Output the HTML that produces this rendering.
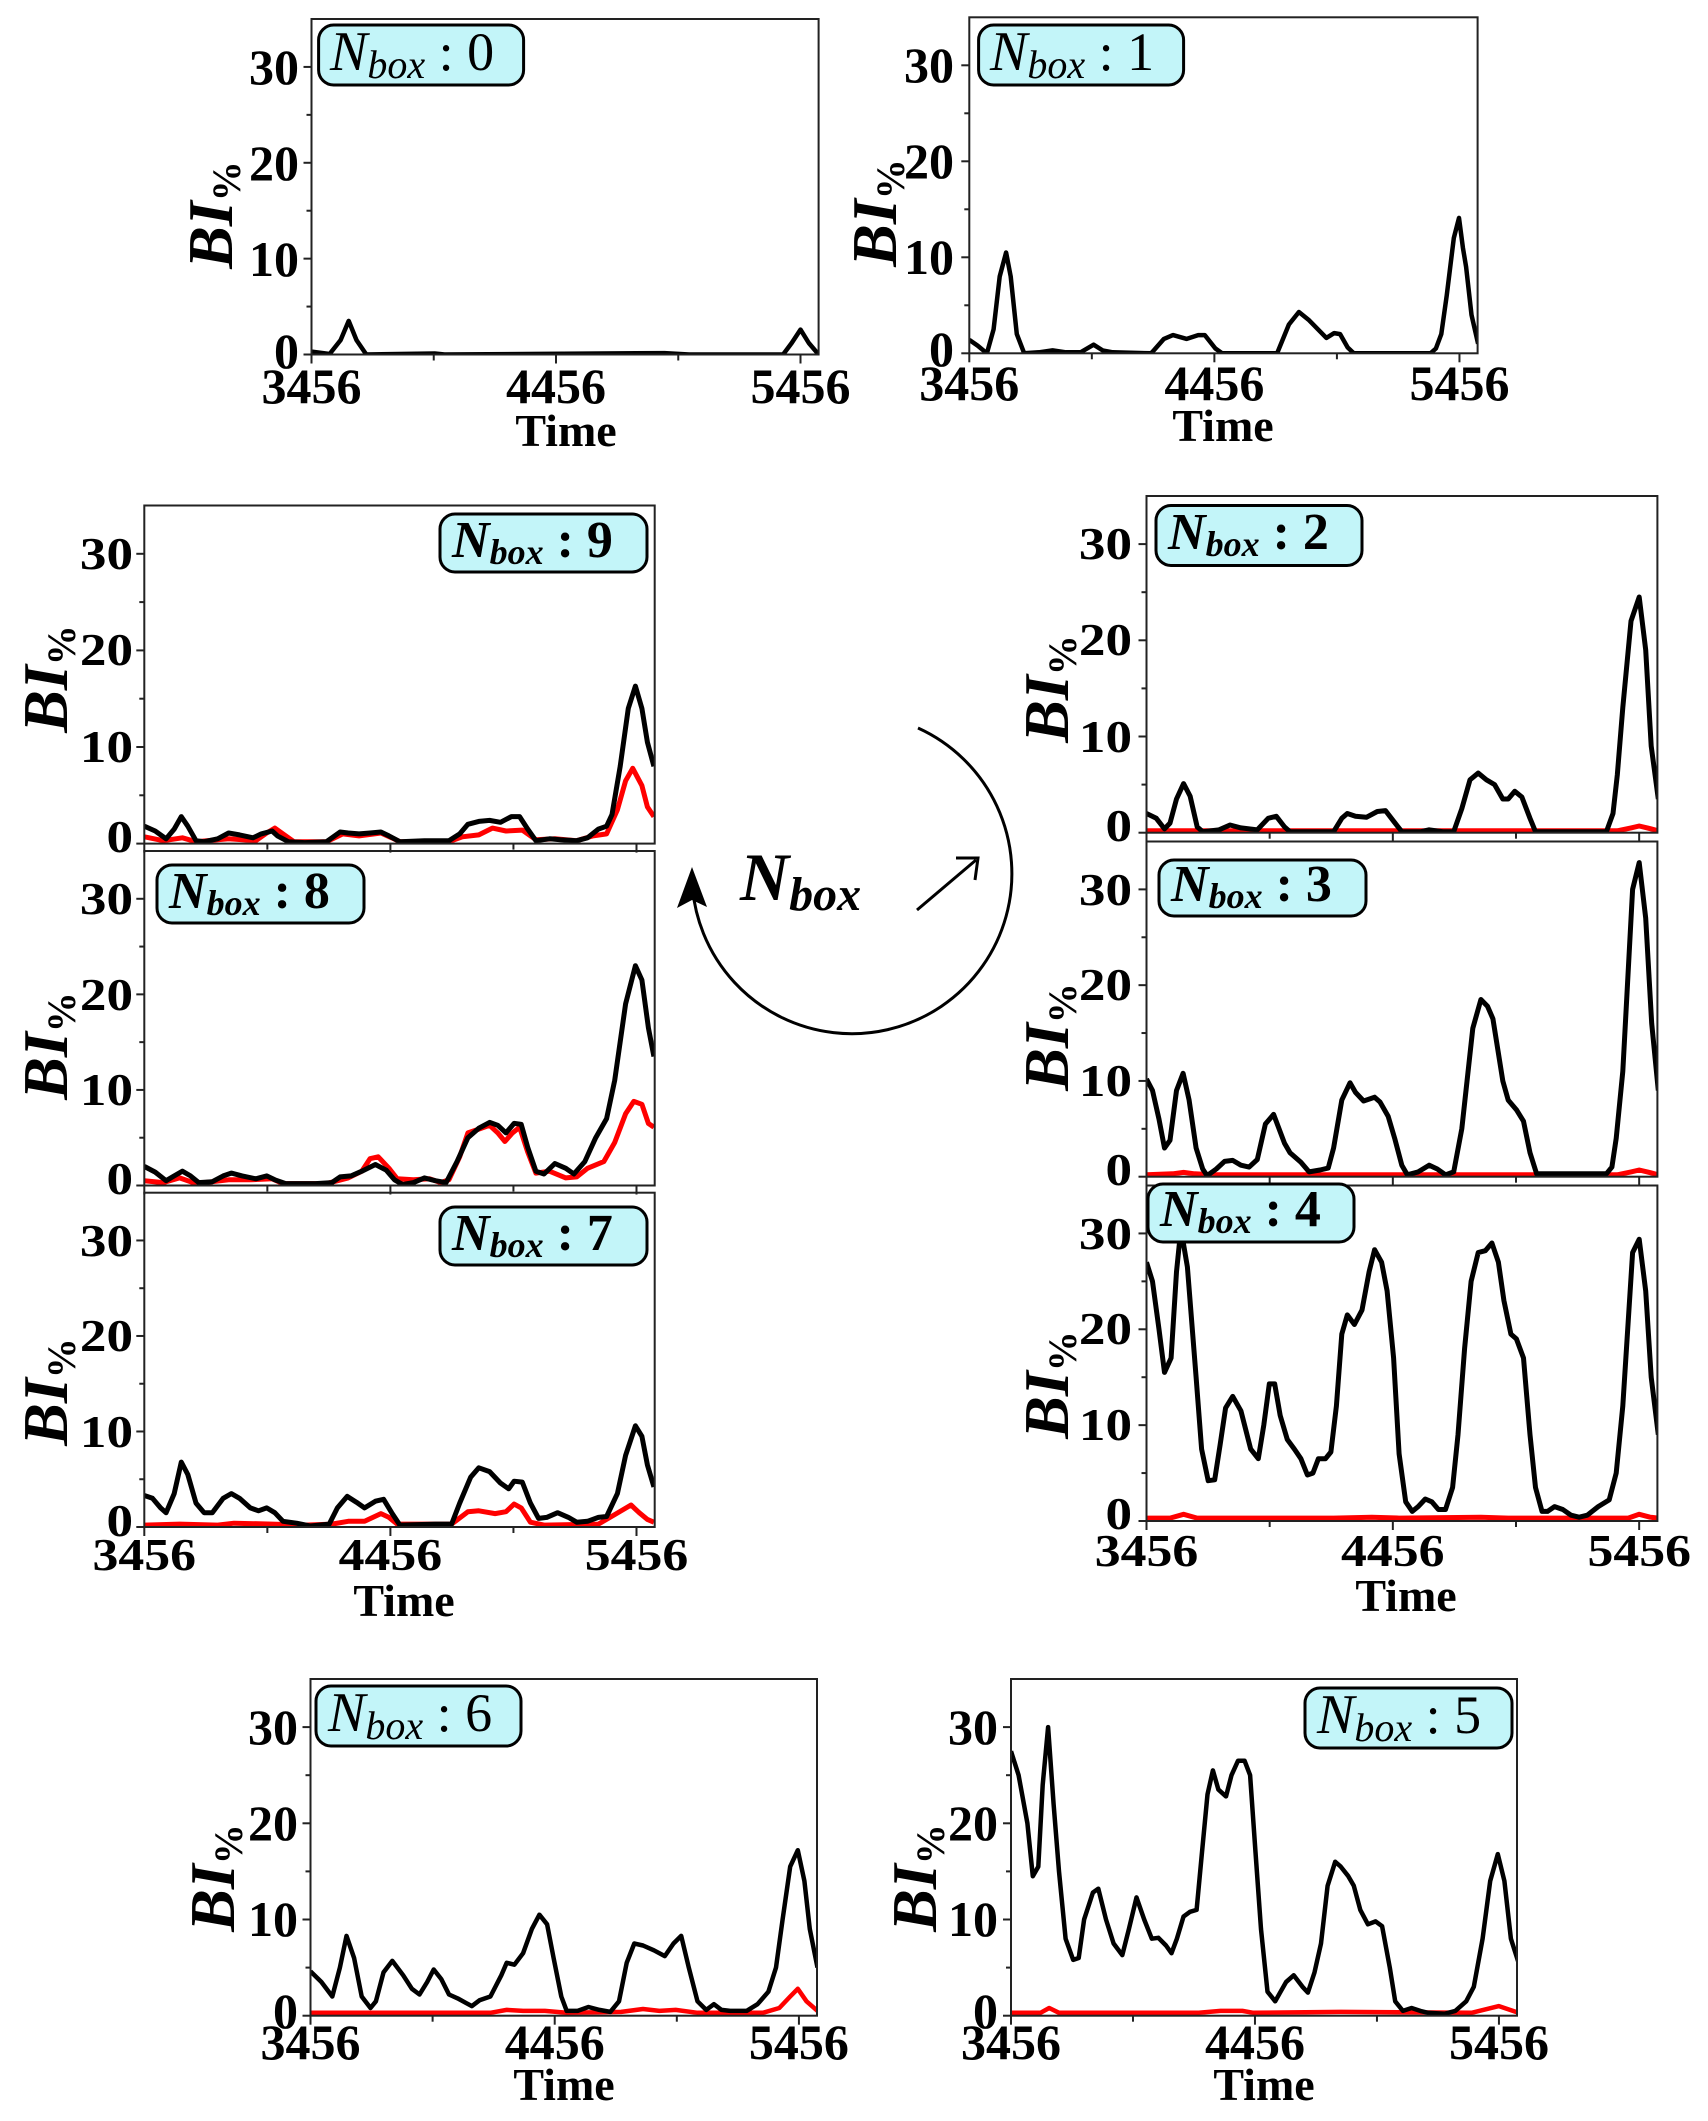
<!DOCTYPE html>
<html><head><meta charset="utf-8">
<style>
html,body{margin:0;padding:0;background:#fff;}
svg{display:block;}
.t{font-family:"Liberation Serif",serif;font-weight:bold;fill:#000;}
.lg{font-family:"Liberation Serif",serif;font-style:italic;fill:#000;}
</style></head>
<body>
<svg id="s" width="1708" height="2121" viewBox="0 0 1708 2121" xmlns="http://www.w3.org/2000/svg">
<rect width="1708" height="2121" fill="#fff"/>
<g id="plots"></g>

<!-- legends -->
<g stroke="#000" stroke-width="3" fill="#c3f5f9">
<rect x="318.6" y="25" width="205" height="60" rx="15"/>
<rect x="978.6" y="25" width="205" height="60" rx="15"/>
<rect x="440" y="514" width="207" height="58" rx="15"/>
<rect x="157" y="865" width="207" height="58" rx="15"/>
<rect x="440" y="1207" width="207" height="58" rx="15"/>
<rect x="1156" y="505.5" width="206" height="60" rx="15"/>
<rect x="1159" y="860" width="207" height="56" rx="15"/>
<rect x="1148" y="1184" width="206" height="58" rx="15"/>
<rect x="316" y="1686" width="205" height="60" rx="15"/>
<rect x="1305" y="1688" width="207" height="60" rx="15"/>
</g>
<text class="lg" x="330" y="70" font-size="56">N<tspan font-size="40" dy="8">box</tspan><tspan font-style="normal" font-size="54" dy="-8"> : 0</tspan></text>
<text class="lg" x="990" y="70" font-size="56">N<tspan font-size="40" dy="8">box</tspan><tspan font-style="normal" font-size="54" dy="-8"> : 1</tspan></text>
<text class="lg" x="452" y="557" font-size="52" font-weight="bold">N<tspan font-size="36" dy="7">box</tspan><tspan font-style="normal" dy="-7"> : 9</tspan></text>
<text class="lg" x="169" y="908" font-size="52" font-weight="bold">N<tspan font-size="36" dy="7">box</tspan><tspan font-style="normal" dy="-7"> : 8</tspan></text>
<text class="lg" x="452" y="1250" font-size="52" font-weight="bold">N<tspan font-size="36" dy="7">box</tspan><tspan font-style="normal" dy="-7"> : 7</tspan></text>
<text class="lg" x="1168" y="549" font-size="52" font-weight="bold">N<tspan font-size="36" dy="7">box</tspan><tspan font-style="normal" dy="-7"> : 2</tspan></text>
<text class="lg" x="1171" y="901" font-size="52" font-weight="bold">N<tspan font-size="36" dy="7">box</tspan><tspan font-style="normal" dy="-7"> : 3</tspan></text>
<text class="lg" x="1160" y="1226" font-size="52" font-weight="bold">N<tspan font-size="36" dy="7">box</tspan><tspan font-style="normal" dy="-7"> : 4</tspan></text>
<text class="lg" x="328" y="1731" font-size="56">N<tspan font-size="40" dy="8">box</tspan><tspan font-style="normal" font-size="54" dy="-8"> : 6</tspan></text>
<text class="lg" x="1317" y="1733" font-size="56">N<tspan font-size="40" dy="8">box</tspan><tspan font-style="normal" font-size="54" dy="-8"> : 5</tspan></text>

<!-- Y tick labels: top/bottom panels -->
<g class="t" font-size="50" text-anchor="end">
<text x="299" y="84">30</text><text x="299" y="180">20</text><text x="299" y="276">10</text><text x="299" y="368">0</text>
<text x="954" y="82">30</text><text x="954" y="178">20</text><text x="954" y="274">10</text><text x="954" y="366">0</text>
<text x="298" y="1744">30</text><text x="298" y="1840">20</text><text x="298" y="1936">10</text><text x="298" y="2028">0</text>
<text x="998" y="1744">30</text><text x="998" y="1840">20</text><text x="998" y="1936">10</text><text x="998" y="2028">0</text>
</g>
<!-- Y tick labels middle panels -->
<g class="t" font-size="45" text-anchor="end">
<text transform="translate(133,569) scale(1.18,1)">30</text><text transform="translate(133,665) scale(1.18,1)">20</text><text transform="translate(133,762) scale(1.18,1)">10</text><text transform="translate(133,852) scale(1.18,1)">0</text>
<text transform="translate(133,914) scale(1.18,1)">30</text><text transform="translate(133,1010) scale(1.18,1)">20</text><text transform="translate(133,1105) scale(1.18,1)">10</text><text transform="translate(133,1194) scale(1.18,1)">0</text>
<text transform="translate(133,1256) scale(1.18,1)">30</text><text transform="translate(133,1351) scale(1.18,1)">20</text><text transform="translate(133,1447) scale(1.18,1)">10</text><text transform="translate(133,1536) scale(1.18,1)">0</text>
<text transform="translate(1132,559) scale(1.18,1)">30</text><text transform="translate(1132,655) scale(1.18,1)">20</text><text transform="translate(1132,752) scale(1.18,1)">10</text><text transform="translate(1132,841) scale(1.18,1)">0</text>
<text transform="translate(1132,905) scale(1.18,1)">30</text><text transform="translate(1132,1000) scale(1.18,1)">20</text><text transform="translate(1132,1096) scale(1.18,1)">10</text><text transform="translate(1132,1185) scale(1.18,1)">0</text>
<text transform="translate(1132,1249) scale(1.18,1)">30</text><text transform="translate(1132,1344) scale(1.18,1)">20</text><text transform="translate(1132,1440) scale(1.18,1)">10</text><text transform="translate(1132,1529) scale(1.18,1)">0</text>
</g>
<!-- X tick labels -->
<g class="t" font-size="50" text-anchor="middle">
<text x="311.5" y="403">3456</text><text x="556" y="403">4456</text><text x="800.5" y="403">5456</text>
<text x="969.3" y="400">3456</text><text x="1214.4" y="400">4456</text><text x="1459.5" y="400">5456</text>
<text x="310.5" y="2059">3456</text><text x="554.7" y="2059">4456</text><text x="798.9" y="2059">5456</text>
<text x="1011" y="2059">3456</text><text x="1255" y="2059">4456</text><text x="1499" y="2059">5456</text>
</g>
<g class="t" font-size="45" text-anchor="middle">
<text transform="translate(144.3,1570) scale(1.15,1)">3456</text><text transform="translate(390.4,1570) scale(1.15,1)">4456</text><text transform="translate(636.5,1570) scale(1.15,1)">5456</text>
<text transform="translate(1146.5,1566) scale(1.15,1)">3456</text><text transform="translate(1392.8,1566) scale(1.15,1)">4456</text><text transform="translate(1639.2,1566) scale(1.15,1)">5456</text>
</g>
<g class="t" font-size="46" text-anchor="middle">
<text x="566" y="446">Time</text>
<text x="1223" y="441">Time</text>
<text x="404" y="1616">Time</text>
<text x="1406" y="1611">Time</text>
<text x="564" y="2100">Time</text>
<text x="1264" y="2100">Time</text>
</g>
<!-- BI% y labels -->
<g class="t" font-style="italic" font-size="64" text-anchor="middle">
<text transform="translate(232,215) rotate(-90)">BI<tspan font-size="40" font-style="normal" dy="8">%</tspan></text>
<text transform="translate(896,213) rotate(-90)">BI<tspan font-size="40" font-style="normal" dy="8">%</tspan></text>
<text transform="translate(67,679) rotate(-90)">BI<tspan font-size="40" font-style="normal" dy="8">%</tspan></text>
<text transform="translate(67,1046) rotate(-90)">BI<tspan font-size="40" font-style="normal" dy="8">%</tspan></text>
<text transform="translate(67,1392) rotate(-90)">BI<tspan font-size="40" font-style="normal" dy="8">%</tspan></text>
<text transform="translate(1068,689) rotate(-90)">BI<tspan font-size="40" font-style="normal" dy="8">%</tspan></text>
<text transform="translate(1068,1037) rotate(-90)">BI<tspan font-size="40" font-style="normal" dy="8">%</tspan></text>
<text transform="translate(1068,1385) rotate(-90)">BI<tspan font-size="40" font-style="normal" dy="8">%</tspan></text>
<text transform="translate(234,1878) rotate(-90)">BI<tspan font-size="40" font-style="normal" dy="8">%</tspan></text>
<text transform="translate(936,1878) rotate(-90)">BI<tspan font-size="40" font-style="normal" dy="8">%</tspan></text>
</g>

<!-- central cycle -->
<path d="M918,728 A160,160 0 1 1 692,880" fill="none" stroke="#000" stroke-width="3"/>
<polygon points="692,867 677,908 692,900 707,907" fill="#000"/>
<line x1="917" y1="910" x2="976" y2="860" stroke="#000" stroke-width="3"/>
<path d="M956,858 L978,858 L975,880" fill="none" stroke="#000" stroke-width="3"/>
<text class="t" font-style="italic" x="740" y="900" font-size="68">N<tspan font-size="48" dy="10">box</tspan></text>
</svg>
<script>
var NS="http://www.w3.org/2000/svg";
var g=document.getElementById("plots");
function el(n,a){var e=document.createElementNS(NS,n);for(var k in a)e.setAttribute(k,a[k]);g.appendChild(e);return e;}
var LM=[265,1170],RM=[537,1440],TT=[3456,5456];
var P=[
{L:311.5,R:818.6,T:19,B:354.5,z:TT,lw:4.5,
k:[[3456,.3],[3530,.05],[3575,1.5],[3608,3.5],[3640,1.5],[3680,0],[3960,.1],[4000,0],[4900,.15],[5000,0],[5385,0],[5420,1.2],[5456,2.6],[5490,1.2],[5530,0]],r:null},
{L:969.3,R:1477.6,T:17.3,B:353.3,z:TT,lw:4.5,
k:[[3456,1.4],[3490,.8],[3528,0],[3555,2.5],[3580,8],[3606,10.5],[3625,8],[3650,2],[3680,0],[3740,.1],[3796,.3],[3850,.1],[3910,.1],[3963,.9],[4000,.3],[4041,.1],[4198,0],[4209,.3],[4250,1.5],[4287,1.9],[4343,1.5],[4390,1.9],[4417,1.9],[4460,.5],[4488,0],[4712,0],[4760,3],[4801,4.3],[4840,3.5],[4913,1.6],[4945,2.1],[4969,2],[5000,.6],[5025,0],[5338,0],[5360,.5],[5382,2],[5404,6],[5433,12],[5454,14.1],[5470,11],[5483,9],[5505,4],[5532,1]],r:null},
{L:144.3,R:654.7,T:505.5,B:843.6,z:LM,lw:5,
k:[[265,1.8],[285,1.3],[305,.5],[320,1.5],[333,2.8],[345,1.8],[360,.3],[375,.2],[400,.5],[420,1.1],[440,.9],[465,.6],[480,1],[500,1.3],[510,.8],[530,.2],[560,.1],[600,.2],[625,1.2],[640,1.1],[660,1],[680,1.1],[700,1.2],[715,.8],[735,.2],[780,.3],[825,.3],[845,1],[860,2],[880,2.3],[900,2.4],[920,2.2],[940,2.8],[955,2.8],[970,1.5],[985,.3],[1010,.5],[1030,.4],[1060,.3],[1080,.6],[1100,1.5],[1115,1.8],[1125,3],[1140,8],[1155,14],[1168,16.3],[1180,14],[1190,10.5],[1202,8]],
r:[[265,.7],[300,.3],[335,.6],[360,.2],[420,.5],[470,.3],[490,1.1],[505,1.6],[520,1],[540,.2],[600,.2],[630,1],[660,.8],[700,1.1],[720,.6],[735,.2],[825,.2],[850,.7],[880,.9],[905,1.6],[930,1.3],[960,1.4],[985,.4],[1020,.5],[1060,.3],[1090,.8],[1115,1],[1135,3.5],[1150,6.5],[1163,7.8],[1180,6],[1190,3.8],[1202,2.8]]},
{L:144.3,R:654.7,T:851,B:1185.5,z:LM,lw:5,
k:[[265,2],[285,1.4],[305,.5],[320,1],[335,1.5],[350,1],[365,.3],[390,.4],[410,1],[425,1.3],[445,1],[470,.7],[490,1],[505,.6],[525,.2],[580,.2],[610,.3],[625,.9],[645,1],[665,1.5],[690,2.2],[710,1.6],[725,.6],[740,.1],[760,.3],[780,.8],[800,.5],[820,.3],[840,2.5],[860,5],[880,6],[900,6.6],[915,6.3],[930,5.5],[945,6.5],[958,6.4],[970,4],[985,1.5],[1000,1.2],[1020,2.3],[1040,1.8],[1055,1.2],[1075,2.5],[1095,5],[1115,7],[1130,11],[1150,19],[1168,23],[1180,21.5],[1192,16.5],[1202,13.5]],
r:[[265,.5],[300,.3],[330,.8],[360,.2],[420,.6],[460,.6],[500,.7],[520,.2],[600,.2],[640,.8],[665,1.5],[680,2.8],[695,3],[715,1.8],[730,.7],[760,.6],[790,.7],[810,.3],[825,.6],[845,3],[860,5.5],[880,5.9],[900,6.3],[915,5.5],[928,4.6],[942,5.5],[955,6.1],[970,3.5],[985,1.3],[1010,1.5],[1040,.8],[1060,.9],[1080,1.8],[1110,2.5],[1130,4.5],[1150,7.5],[1165,8.8],[1180,8.5],[1192,6.5],[1202,6.1]]},
{L:144.3,R:654.7,T:1192.7,B:1527,z:LM,lw:5,
k:[[265,3.3],[280,3],[295,2],[305,1.5],[320,3.5],[333,6.8],[345,5.5],[360,2.5],[375,1.5],[390,1.5],[410,3],[425,3.5],[440,3],[460,2],[475,1.7],[490,2],[505,1.5],[520,.6],[545,.4],[570,.1],[605,.3],[620,2],[638,3.2],[655,2.6],[670,2],[690,2.7],[705,2.9],[720,1.5],[735,.2],[800,.3],[830,.3],[845,2.5],[865,5.2],[880,6.2],[900,5.8],[920,4.6],[935,4],[945,4.8],[960,4.7],[975,2.5],[990,.9],[1005,1],[1025,1.5],[1045,1],[1060,.5],[1080,.6],[1100,1],[1115,1.1],[1135,3.5],[1150,7.5],[1168,10.6],[1180,9.5],[1190,6.5],[1202,4.2]],
r:[[265,.2],[330,.3],[400,.2],[430,.4],[500,.3],[560,.2],[610,.3],[640,.6],[670,.6],[700,1.4],[715,1],[730,.3],[830,.3],[860,1.6],[880,1.7],[910,1.4],[930,1.6],[945,2.4],[958,2],[975,.5],[1000,.2],[1100,.3],[1130,1.3],[1160,2.3],[1175,1.5],[1190,.8],[1202,.5]]},
{L:1146.5,R:1657.4,T:496,B:832.7,z:RM,lw:5,
k:[[537,2],[555,1.5],[570,.4],[580,1],[592,3.5],[605,5.1],[617,3.8],[630,.6],[640,.1],[670,.3],[690,.8],[710,.5],[740,.3],[760,1.5],[775,1.7],[790,.6],[800,.1],[880,.1],[895,1.5],[905,2],[920,1.7],[940,1.6],[960,2.2],[975,2.3],[990,1.2],[1005,.1],[1040,.1],[1055,.3],[1080,.1],[1100,.1],[1115,2.5],[1130,5.5],[1145,6.2],[1160,5.5],[1175,5],[1190,3.5],[1200,3.5],[1212,4.3],[1225,3.7],[1240,1.5],[1250,.1],[1380,.1],[1392,2],[1400,6],[1410,13],[1425,22],[1440,24.5],[1452,19],[1462,9],[1475,3.5]],
r:[[537,.2],[1400,.2],[1425,.5],[1440,.7],[1455,.5],[1475,.2]]},
{L:1146.5,R:1657.4,T:841.5,B:1176.7,z:RM,lw:5,
k:[[537,10.2],[548,9],[560,6],[570,3],[580,3.8],[592,9],[604,10.8],[615,8],[628,3],[640,.8],[648,.1],[665,.8],[680,1.6],[695,1.7],[710,1.2],[725,1],[740,1.8],[755,5.5],[770,6.5],[790,3.5],[800,2.5],[820,1.5],[835,.5],[855,.7],[870,.9],[880,3],[895,8],[910,9.8],[920,8.8],[935,7.9],[955,8.3],[965,7.8],[980,6.3],[992,4],[1005,1.2],[1015,.2],[1035,.5],[1055,1.2],[1070,.8],[1085,.2],[1100,.5],[1115,5],[1135,15.5],[1150,18.5],[1162,17.8],[1172,16.5],[1190,10],[1200,8],[1215,7],[1228,5.8],[1240,2.5],[1252,.3],[1380,.3],[1390,1],[1398,4],[1410,11],[1428,30],[1440,32.8],[1452,27],[1463,16],[1475,9]],
r:[[537,.2],[585,.3],[605,.45],[625,.3],[660,.2],[1400,.2],[1425,.5],[1440,.7],[1455,.5],[1475,.2]]},
{L:1146.5,R:1657.4,T:1185.5,B:1521,z:RM,lw:5,
k:[[537,27],[548,25],[560,20],[570,15.5],[582,17],[592,26],[600,30.5],[612,26.5],[628,15],[638,7.5],[650,4.2],[662,4.3],[672,8],[682,11.8],[695,13],[710,11.5],[728,7.5],[742,6.5],[752,10],[762,14.3],[772,14.3],[782,11],[795,8.5],[808,7.5],[820,6.5],[832,4.8],[842,5],[852,6.5],[865,6.5],[875,7.2],[885,12],[895,19.5],[905,21.5],[918,20.5],[932,22],[945,26],[955,28.3],[968,27],[978,24],[990,17],[1000,7],[1012,2],[1024,1],[1035,1.5],[1048,2.3],[1060,2],[1072,1.2],[1085,1.2],[1098,3.5],[1108,9],[1120,18],[1132,25],[1145,28],[1158,28.2],[1170,29],[1182,27],[1192,23],[1205,19.5],[1215,19],[1228,17],[1240,9],[1250,3.5],[1262,1],[1272,1],[1285,1.5],[1300,1.2],[1315,.6],[1330,.4],[1345,.6],[1365,1.5],[1385,2.2],[1398,5],[1410,12],[1428,28],[1440,29.4],[1452,24],[1462,15],[1475,9]],
r:[[537,.3],[580,.3],[605,.7],[630,.3],[880,.3],[950,.4],[1000,.3],[1150,.4],[1200,.3],[1420,.3],[1440,.7],[1460,.4],[1475,.3]]},
{L:310.5,R:817,T:1679,B:2015.7,z:[285,733],lw:4.5,
k:[[285,4.6],[295,3.5],[305,2],[312,5],[318,8.3],[325,6],[332,2],[340,.8],[345,1.5],[352,4.5],[360,5.7],[370,4.2],[378,2.8],[385,2.2],[392,3.5],[398,4.8],[405,3.8],[412,2.2],[420,1.8],[428,1.3],[433,1],[440,1.6],[450,2],[460,4.2],[465,5.5],[472,5.3],[480,6.5],[488,9],[495,10.5],[502,9.5],[508,6],[515,2],[520,.5],[530,.5],[540,.9],[550,.6],[560,.4],[568,1.5],[575,5.5],[582,7.5],[590,7.3],[600,6.8],[610,6.2],[618,7.5],[625,8.3],[632,5],[640,1.5],[648,.6],[655,1.2],[662,.6],[670,.5],[685,.5],[695,1.2],[705,2.5],[712,5],[718,10],[725,15.5],[732,17.2],[738,14],[743,9],[750,5]],
r:[[285,.3],[450,.3],[465,.6],[480,.5],[500,.5],[520,.3],[570,.4],[590,.7],[605,.5],[620,.6],[640,.3],[700,.3],[715,.8],[725,2],[732,2.8],[740,1.5],[750,.5]]},
{L:1011,R:1517,T:1679,B:2015.7,z:[928,1375],lw:4.5,
k:[[928,27.5],[935,25],[943,20],[948,14.5],[953,15.5],[957,24],[962,30],[967,22],[972,15],[978,8],[985,5.8],[990,6],[995,10],[1003,12.8],[1008,13.2],[1015,10],[1022,7.5],[1030,6.3],[1036,9],[1043,12.3],[1050,10],[1057,8],[1063,8.1],[1070,7.3],[1075,6.5],[1080,8],[1086,10.3],[1092,10.8],[1098,11],[1103,17],[1108,23],[1113,25.5],[1118,23.5],[1125,22.8],[1130,25],[1136,26.5],[1142,26.5],[1147,25],[1152,17],[1157,9],[1163,2.5],[1170,1.5],[1175,2.5],[1180,3.5],[1187,4.2],[1195,3],[1200,2.4],[1206,4.5],[1212,7.5],[1218,13.5],[1225,16],[1230,15.5],[1237,14.5],[1242,13.5],[1248,11],[1255,9.5],[1262,9.8],[1268,9.3],[1275,5],[1280,1.5],[1287,.5],[1295,.8],[1303,.5],[1310,.3],[1325,.2],[1335,.5],[1345,1.5],[1352,3],[1360,8],[1367,14],[1374,16.8],[1380,14],[1386,8],[1393,5.5]],
r:[[928,.3],[955,.3],[963,.8],[972,.3],[1100,.3],[1120,.5],[1140,.5],[1150,.3],[1230,.4],[1350,.3],[1375,1],[1393,.3]]}
];
P.forEach(function(p,i){
  var W=p.R-p.L,H=p.B-p.T,s=H/35;
  function X(z){return p.L+(z-p.z[0])/(p.z[1]-p.z[0])*0.9643*W;}
  function Y(v){return p.B-v*s;}
  var cp=el("clipPath",{id:"c"+i});
  var cr=document.createElementNS(NS,"rect");
  cr.setAttribute("x",p.L);cr.setAttribute("y",p.T);cr.setAttribute("width",W);cr.setAttribute("height",H);
  cp.appendChild(cr);
  function line(d,c){
    var pts=d.map(function(q){return X(q[0]).toFixed(1)+","+Y(q[1]).toFixed(1);}).join(" ");
    el("polyline",{points:pts,fill:"none",stroke:c,"stroke-width":p.lw,"stroke-linejoin":"round","clip-path":"url(#c"+i+")"});
  }
  if(p.r) line(p.r,"#ff0000");
  line(p.k,"#000");
  el("rect",{x:p.L,y:p.T,width:W,height:H,fill:"none",stroke:"#222","stroke-width":2});
  for(var v=0;v<=30;v+=5){
    var len=(v%10==0)?8:5;
    el("line",{x1:p.L-len,x2:p.L,y1:Y(v),y2:Y(v),stroke:"#222","stroke-width":2});
  }
  for(var j=0;j<5;j++){
    var x=p.L+j*0.24108*W, len2=(j%2==0)?9:6;
    el("line",{x1:x,x2:x,y1:p.B,y2:p.B+len2,stroke:"#222","stroke-width":2});
  }
});
</script>
</body></html>
